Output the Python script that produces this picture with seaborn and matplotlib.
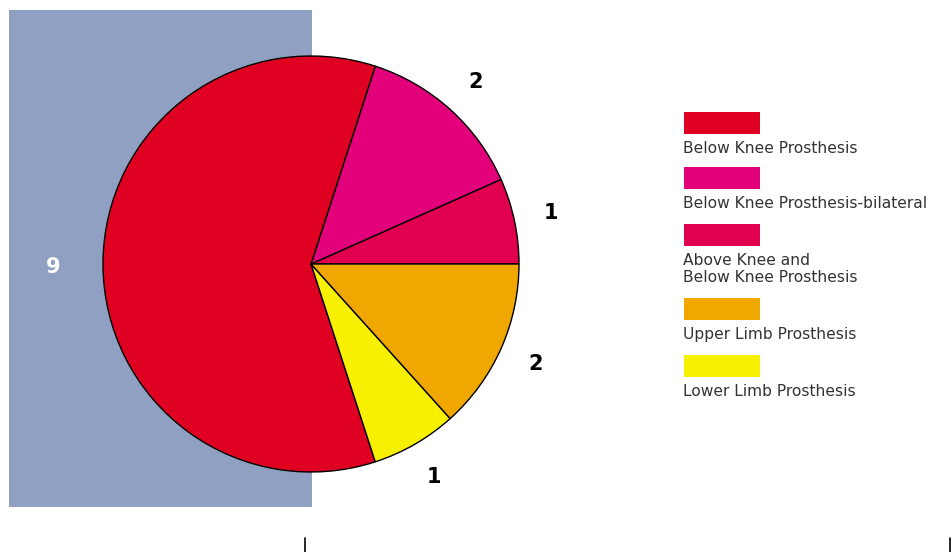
import matplotlib.pyplot as plt
import seaborn as sns
from matplotlib.patches import Rectangle

# Data (pie order: counter-clockwise from 3 o'clock)
slice_names = ['Above Knee and\nBelow Knee Prosthesis', 'Below Knee Prosthesis-bilateral',
               'Below Knee Prosthesis', 'Lower Limb Prosthesis', 'Upper Limb Prosthesis']
slice_values = [1, 2, 9, 1, 2]
slice_colors = ['#e0004f', '#e2007b', '#e00022', '#f7f000', '#f0a800']

# legend order as in the reference
legend_order = ['Below Knee Prosthesis', 'Below Knee Prosthesis-bilateral',
                'Above Knee and\nBelow Knee Prosthesis', 'Upper Limb Prosthesis',
                'Lower Limb Prosthesis']

sns.set_theme(style='white')
plt.rcParams['font.family'] = ['DejaVu Sans']

W, H = 953, 552
fig = plt.figure(figsize=(W / 100, H / 100), dpi=100)
ax = fig.add_axes([0, 0, 1, 1])

# grey-blue background panel
ax.add_patch(Rectangle((9, H - 507), 303, 497, facecolor='#8fa0c2', edgecolor='none', zorder=0))

# pie
wedges, texts = ax.pie(slice_values, colors=slice_colors, startangle=0, counterclock=True,
                       center=(311, H - 264), radius=208, labels=[str(v) for v in slice_values],
                       labeldistance=1.18, frame=True,
                       wedgeprops=dict(edgecolor='black', linewidth=1),
                       textprops=dict(fontsize=15, fontweight='bold', color='black'))
ax.set_xlim(0, W)
ax.set_ylim(0, H)
ax.axis('off')
for t, v in zip(texts, slice_values):
    t.set_ha('center')
    t.set_va('center')
    if v == 9:
        t.set_color('white')
        x, y = t.get_position()
        t.set_position((x - 12, y - 3))

# legend built by hand: swatch with the label underneath
color_of = dict(zip(slice_names, slice_colors))
swatch_top = [112, 167, 224, 298, 355]
for name, top in zip(legend_order, swatch_top):
    ax.add_patch(Rectangle((684, H - top - 22), 76, 22, facecolor=color_of[name], edgecolor='none'))
    ax.text(683, H - top - 29, name, ha='left', va='top', fontsize=11.2, color='#333333',
            linespacing=1.2)

# small ticks at the bottom
for x in [305, 950]:
    ax.plot([x, x], [0, 14], color='black', linewidth=1.2)

fig.savefig('out.png', dpi=100)
